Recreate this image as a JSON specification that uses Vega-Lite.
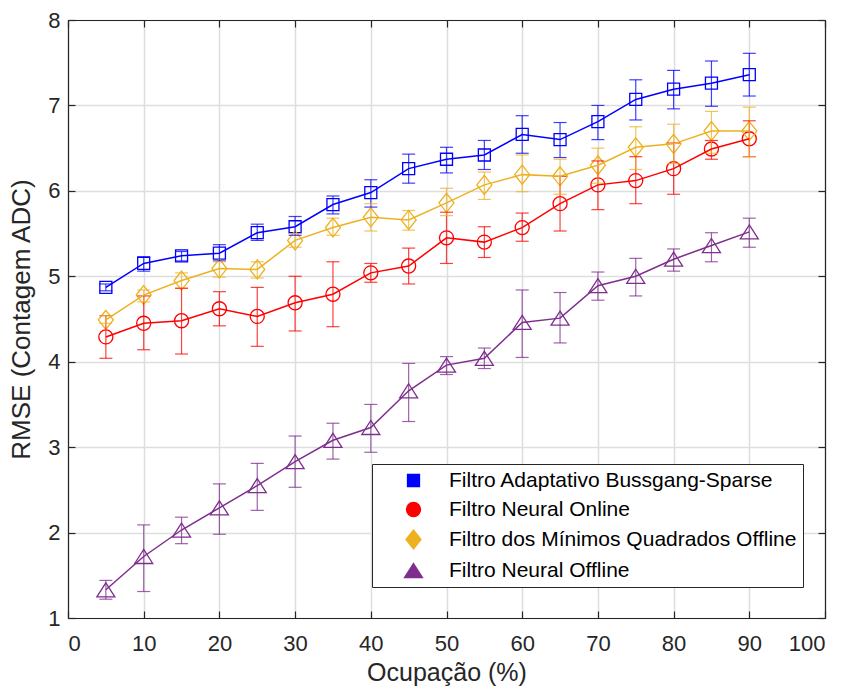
{
  "$schema": "https://vega.github.io/schema/vega-lite/v6.json",
  "width": 757,
  "height": 598,
  "autosize": "none",
  "padding": {"left": 68, "top": 20, "right": 23, "bottom": 73},
  "background": "white",
  "config": {"font": "Liberation Sans", "view": {"stroke": null}},
  "data": {"values": [
    {"s": "Filtro Adaptativo Bussgang-Sparse", "x": 5, "y": 4.87, "lo": 4.83, "hi": 4.91},
    {"s": "Filtro Adaptativo Bussgang-Sparse", "x": 10, "y": 5.15, "lo": 5.06, "hi": 5.23},
    {"s": "Filtro Adaptativo Bussgang-Sparse", "x": 15, "y": 5.24, "lo": 5.18, "hi": 5.29},
    {"s": "Filtro Adaptativo Bussgang-Sparse", "x": 20, "y": 5.27, "lo": 5.18, "hi": 5.37},
    {"s": "Filtro Adaptativo Bussgang-Sparse", "x": 25, "y": 5.51, "lo": 5.42, "hi": 5.61},
    {"s": "Filtro Adaptativo Bussgang-Sparse", "x": 30, "y": 5.58, "lo": 5.48, "hi": 5.70},
    {"s": "Filtro Adaptativo Bussgang-Sparse", "x": 35, "y": 5.84, "lo": 5.73, "hi": 5.94},
    {"s": "Filtro Adaptativo Bussgang-Sparse", "x": 40, "y": 5.98, "lo": 5.81, "hi": 6.13},
    {"s": "Filtro Adaptativo Bussgang-Sparse", "x": 45, "y": 6.26, "lo": 6.09, "hi": 6.43},
    {"s": "Filtro Adaptativo Bussgang-Sparse", "x": 50, "y": 6.37, "lo": 6.21, "hi": 6.51},
    {"s": "Filtro Adaptativo Bussgang-Sparse", "x": 55, "y": 6.42, "lo": 6.25, "hi": 6.59},
    {"s": "Filtro Adaptativo Bussgang-Sparse", "x": 60, "y": 6.66, "lo": 6.44, "hi": 6.88},
    {"s": "Filtro Adaptativo Bussgang-Sparse", "x": 65, "y": 6.60, "lo": 6.39, "hi": 6.80},
    {"s": "Filtro Adaptativo Bussgang-Sparse", "x": 70, "y": 6.81, "lo": 6.60, "hi": 7.00},
    {"s": "Filtro Adaptativo Bussgang-Sparse", "x": 75, "y": 7.07, "lo": 6.83, "hi": 7.30},
    {"s": "Filtro Adaptativo Bussgang-Sparse", "x": 80, "y": 7.19, "lo": 6.96, "hi": 7.41},
    {"s": "Filtro Adaptativo Bussgang-Sparse", "x": 85, "y": 7.26, "lo": 6.99, "hi": 7.52},
    {"s": "Filtro Adaptativo Bussgang-Sparse", "x": 90, "y": 7.36, "lo": 7.11, "hi": 7.61},
    {"s": "Filtro Neural Online", "x": 5, "y": 4.29, "lo": 4.04, "hi": 4.54},
    {"s": "Filtro Neural Online", "x": 10, "y": 4.45, "lo": 4.14, "hi": 4.77},
    {"s": "Filtro Neural Online", "x": 15, "y": 4.48, "lo": 4.09, "hi": 4.86},
    {"s": "Filtro Neural Online", "x": 20, "y": 4.62, "lo": 4.42, "hi": 4.82},
    {"s": "Filtro Neural Online", "x": 25, "y": 4.53, "lo": 4.18, "hi": 4.87},
    {"s": "Filtro Neural Online", "x": 30, "y": 4.69, "lo": 4.36, "hi": 5.00},
    {"s": "Filtro Neural Online", "x": 35, "y": 4.79, "lo": 4.41, "hi": 5.17},
    {"s": "Filtro Neural Online", "x": 40, "y": 5.04, "lo": 4.93, "hi": 5.15},
    {"s": "Filtro Neural Online", "x": 45, "y": 5.12, "lo": 4.91, "hi": 5.33},
    {"s": "Filtro Neural Online", "x": 50, "y": 5.45, "lo": 5.15, "hi": 5.75},
    {"s": "Filtro Neural Online", "x": 55, "y": 5.40, "lo": 5.22, "hi": 5.58},
    {"s": "Filtro Neural Online", "x": 60, "y": 5.57, "lo": 5.41, "hi": 5.74},
    {"s": "Filtro Neural Online", "x": 65, "y": 5.85, "lo": 5.53, "hi": 6.17},
    {"s": "Filtro Neural Online", "x": 70, "y": 6.07, "lo": 5.78, "hi": 6.35},
    {"s": "Filtro Neural Online", "x": 75, "y": 6.12, "lo": 5.85, "hi": 6.40},
    {"s": "Filtro Neural Online", "x": 80, "y": 6.26, "lo": 5.96, "hi": 6.56},
    {"s": "Filtro Neural Online", "x": 85, "y": 6.49, "lo": 6.37, "hi": 6.59},
    {"s": "Filtro Neural Online", "x": 90, "y": 6.61, "lo": 6.40, "hi": 6.82},
    {"s": "Filtro dos Mínimos Quadrados Offline", "x": 5, "y": 4.49, "lo": 4.45, "hi": 4.54},
    {"s": "Filtro dos Mínimos Quadrados Offline", "x": 10, "y": 4.78, "lo": 4.70, "hi": 4.84},
    {"s": "Filtro dos Mínimos Quadrados Offline", "x": 15, "y": 4.95, "lo": 4.86, "hi": 5.04},
    {"s": "Filtro dos Mínimos Quadrados Offline", "x": 20, "y": 5.09, "lo": 4.99, "hi": 5.17},
    {"s": "Filtro dos Mínimos Quadrados Offline", "x": 25, "y": 5.08, "lo": 4.98, "hi": 5.17},
    {"s": "Filtro dos Mínimos Quadrados Offline", "x": 30, "y": 5.42, "lo": 5.34, "hi": 5.50},
    {"s": "Filtro dos Mínimos Quadrados Offline", "x": 35, "y": 5.57, "lo": 5.48, "hi": 5.68},
    {"s": "Filtro dos Mínimos Quadrados Offline", "x": 40, "y": 5.69, "lo": 5.53, "hi": 5.85},
    {"s": "Filtro dos Mínimos Quadrados Offline", "x": 45, "y": 5.66, "lo": 5.54, "hi": 5.77},
    {"s": "Filtro dos Mínimos Quadrados Offline", "x": 50, "y": 5.86, "lo": 5.71, "hi": 6.03},
    {"s": "Filtro dos Mínimos Quadrados Offline", "x": 55, "y": 6.07, "lo": 5.90, "hi": 6.22},
    {"s": "Filtro dos Mínimos Quadrados Offline", "x": 60, "y": 6.19, "lo": 5.99, "hi": 6.42},
    {"s": "Filtro dos Mínimos Quadrados Offline", "x": 65, "y": 6.17, "lo": 5.96, "hi": 6.37},
    {"s": "Filtro dos Mínimos Quadrados Offline", "x": 70, "y": 6.30, "lo": 6.09, "hi": 6.50},
    {"s": "Filtro dos Mínimos Quadrados Offline", "x": 75, "y": 6.51, "lo": 6.25, "hi": 6.75},
    {"s": "Filtro dos Mínimos Quadrados Offline", "x": 80, "y": 6.55, "lo": 6.32, "hi": 6.78},
    {"s": "Filtro dos Mínimos Quadrados Offline", "x": 85, "y": 6.70, "lo": 6.44, "hi": 6.93},
    {"s": "Filtro dos Mínimos Quadrados Offline", "x": 90, "y": 6.70, "lo": 6.40, "hi": 6.98},
    {"s": "Filtro Neural Offline", "x": 5, "y": 1.33, "lo": 1.22, "hi": 1.44},
    {"s": "Filtro Neural Offline", "x": 10, "y": 1.72, "lo": 1.31, "hi": 2.09},
    {"s": "Filtro Neural Offline", "x": 15, "y": 2.03, "lo": 1.87, "hi": 2.18},
    {"s": "Filtro Neural Offline", "x": 20, "y": 2.29, "lo": 1.98, "hi": 2.57},
    {"s": "Filtro Neural Offline", "x": 25, "y": 2.55, "lo": 2.26, "hi": 2.81},
    {"s": "Filtro Neural Offline", "x": 30, "y": 2.83, "lo": 2.53, "hi": 3.13},
    {"s": "Filtro Neural Offline", "x": 35, "y": 3.08, "lo": 2.86, "hi": 3.28},
    {"s": "Filtro Neural Offline", "x": 40, "y": 3.23, "lo": 2.94, "hi": 3.50},
    {"s": "Filtro Neural Offline", "x": 45, "y": 3.66, "lo": 3.30, "hi": 3.98},
    {"s": "Filtro Neural Offline", "x": 50, "y": 3.96, "lo": 3.85, "hi": 4.06},
    {"s": "Filtro Neural Offline", "x": 55, "y": 4.04, "lo": 3.92, "hi": 4.16},
    {"s": "Filtro Neural Offline", "x": 60, "y": 4.46, "lo": 4.05, "hi": 4.84},
    {"s": "Filtro Neural Offline", "x": 65, "y": 4.51, "lo": 4.22, "hi": 4.81},
    {"s": "Filtro Neural Offline", "x": 70, "y": 4.89, "lo": 4.72, "hi": 5.05},
    {"s": "Filtro Neural Offline", "x": 75, "y": 5.00, "lo": 4.77, "hi": 5.21},
    {"s": "Filtro Neural Offline", "x": 80, "y": 5.20, "lo": 5.06, "hi": 5.32},
    {"s": "Filtro Neural Offline", "x": 85, "y": 5.36, "lo": 5.17, "hi": 5.51},
    {"s": "Filtro Neural Offline", "x": 90, "y": 5.52, "lo": 5.34, "hi": 5.68}
  ]},
  "resolve": {"axis": {"x": "independent", "y": "independent"}},
  "layer": [
    {
      "mark": {"type": "point", "filled": false, "size": 144, "strokeWidth": 1.3, "opacity": 1},
      "encoding": {
        "x": {"field": "x", "type": "quantitative", "axis": null, "scale": {"domain": [0, 100], "nice": false}},
        "y": {"field": "y", "type": "quantitative", "axis": null, "scale": {"domain": [1, 8], "nice": false}},
        "color": {"field": "s", "type": "nominal",
                  "scale": {"domain": ["Filtro Adaptativo Bussgang-Sparse", "Filtro Neural Online", "Filtro dos Mínimos Quadrados Offline", "Filtro Neural Offline"], "range": ["#0000ff", "#ff0000", "#edb120", "#7e2f8e"]},
                  "legend": {
                    "orient": "none", "legendX": 304, "legendY": 444, "title": null,
                    "labelFontSize": 21, "labelColor": "#000000", "labelFont": "Liberation Sans", "labelLimit": 0,
                    "symbolSize": 144, "symbolStrokeWidth": 1.3, "symbolOffset": 25, "labelOffset": 25,
                    "padding": 6, "rowPadding": 7, "strokeColor": "#262626", "fillColor": "white", "cornerRadius": 0,
                    "symbolFillColor": "transparent",
                    "encode": {"symbols": {
                      "shape": {"value": {"expr": "indexOf(datum.value,'Bussgang')>=0 ? 'M-5.83,0H-1M1,0H5.83M-1,-1H1V1H-1Z' : indexOf(datum.value,'Online')>=0 ? 'M-5.83,0H-1.17M1.17,0H5.83M-1.17,0A1.17,1.17,0,1,1,1.17,0A1.17,1.17,0,1,1,-1.17,0Z' : indexOf(datum.value,'Quadrados')>=0 ? 'M-5.83,0H-1.33M1.33,0H5.83M0,-1.75L1.33,0L0,1.75L-1.33,0Z' : 'M-5.83,0H-0.71M0.71,0H5.83M0,-1.2L1.42,1.2H-1.42Z'"}},
                      "fill": {"value": "transparent"},
                      "opacity": {"value": 1}
                    }}
                  }},
        "shape": {"field": "s", "type": "nominal",
                  "scale": {"domain": ["Filtro Adaptativo Bussgang-Sparse", "Filtro Neural Online", "Filtro dos Mínimos Quadrados Offline", "Filtro Neural Offline"],
                            "range": ["M-1,-1H1V1H-1Z", "M-1.17,0A1.17,1.17,0,1,1,1.17,0A1.17,1.17,0,1,1,-1.17,0Z", "M0,-1.58L1.25,0L0,1.58L-1.25,0Z", "M0,-1.17L1.5,1.17H-1.5Z"]},
                  "legend": {
                    "orient": "none", "legendX": 304, "legendY": 444, "title": null,
                    "labelFontSize": 21, "labelColor": "#000000", "labelFont": "Liberation Sans", "labelLimit": 0,
                    "symbolSize": 144, "symbolStrokeWidth": 1.3, "symbolOffset": 25, "labelOffset": 25,
                    "padding": 6, "rowPadding": 7, "strokeColor": "#262626", "fillColor": "white", "cornerRadius": 0,
                    "symbolFillColor": "transparent",
                    "encode": {"symbols": {
                      "shape": {"value": {"expr": "indexOf(datum.value,'Bussgang')>=0 ? 'M-5.83,0H-1M1,0H5.83M-1,-1H1V1H-1Z' : indexOf(datum.value,'Online')>=0 ? 'M-5.83,0H-1.17M1.17,0H5.83M-1.17,0A1.17,1.17,0,1,1,1.17,0A1.17,1.17,0,1,1,-1.17,0Z' : indexOf(datum.value,'Quadrados')>=0 ? 'M-5.83,0H-1.33M1.33,0H5.83M0,-1.75L1.33,0L0,1.75L-1.33,0Z' : 'M-5.83,0H-0.71M0.71,0H5.83M0,-1.2L1.42,1.2H-1.42Z'"}},
                      "fill": {"value": "transparent"},
                      "opacity": {"value": 1}
                    }}
                  }}
      }
    },
    {
      "mark": {"type": "rule", "strokeWidth": 1.2, "opacity": 0.75},
      "encoding": {
        "x": {"field": "x", "type": "quantitative",
              "axis": {"orient": "top", "labels": false, "grid": false, "title": null, "values": [0,10,20,30,40,50,60,70,80,90,100], "tickSize": -7, "tickColor": "#262626", "tickWidth": 1.2, "domainColor": "#262626", "domainWidth": 1.2}},
        "y": {"field": "lo", "type": "quantitative",
              "axis": {"orient": "right", "labels": false, "grid": false, "title": null, "values": [1,2,3,4,5,6,7,8], "tickSize": -7, "tickColor": "#262626", "tickWidth": 1.2, "domainColor": "#262626", "domainWidth": 1.2}},
        "y2": {"field": "hi"},
        "color": {"field": "s", "type": "nominal"}
      }
    },
    {
      "mark": {"type": "tick", "orient": "horizontal", "size": 13, "thickness": 1.2, "opacity": 0.75},
      "encoding": {
        "x": {"field": "x", "type": "quantitative", "axis": null},
        "y": {"field": "lo", "type": "quantitative", "axis": null},
        "color": {"field": "s", "type": "nominal"}
      }
    },
    {
      "mark": {"type": "tick", "orient": "horizontal", "size": 13, "thickness": 1.2, "opacity": 0.75},
      "encoding": {
        "x": {"field": "x", "type": "quantitative", "axis": null},
        "y": {"field": "hi", "type": "quantitative", "axis": null},
        "color": {"field": "s", "type": "nominal"}
      }
    },
    {
      "mark": {"type": "line", "strokeWidth": 1.5},
      "encoding": {
        "x": {"field": "x", "type": "quantitative",
              "axis": {"orient": "bottom", "title": "Ocupação (%)", "values": [0,10,20,30,40,50,60,70,80,90,100], "tickSize": -7, "tickColor": "#262626", "tickWidth": 1.2, "domainColor": "#262626", "domainWidth": 1.2, "grid": true, "gridColor": "#dedede", "gridWidth": 1.5, "labelFontSize": 22, "labelColor": "#262626", "labelPadding": 22, "titleFontSize": 25, "titleFontWeight": "normal", "titleColor": "#262626", "titlePadding": 6}},
        "y": {"field": "y", "type": "quantitative",
              "axis": {"orient": "left", "title": "RMSE (Contagem ADC)", "values": [1,2,3,4,5,6,7,8], "tickSize": -7, "tickColor": "#262626", "tickWidth": 1.2, "domainColor": "#262626", "domainWidth": 1.2, "grid": true, "gridColor": "#dedede", "gridWidth": 1.5, "labelFontSize": 22, "labelColor": "#262626", "labelPadding": 15, "titleFontSize": 26, "titleFontWeight": "normal", "titleColor": "#262626", "titlePadding": 13}},
        "color": {"field": "s", "type": "nominal"}
      }
    }
  ]
}
